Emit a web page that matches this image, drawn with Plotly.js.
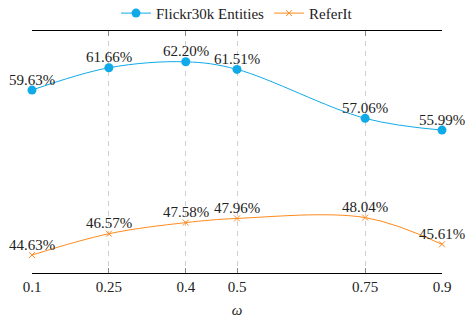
<!DOCTYPE html>
<html>
<head>
<meta charset="utf-8">
<script src="https://cdn.plot.ly/plotly-3.0.1.min.js"></script>
<style>html,body{margin:0;padding:0;background:#fff;}#chart{width:465px;height:318px;}</style>
</head>
<body>
<div id="chart"></div>
<script>
const omega = [0.1, 0.25, 0.4, 0.5, 0.75, 0.9];
const tickLabels = ['0.1', '0.25', '0.4', '0.5', '0.75', '0.9'];
const flickr = [59.63, 61.66, 62.20, 61.51, 57.06, 55.99];
const referit = [44.63, 46.57, 47.58, 47.96, 48.04, 45.61];

const fontFam = 'Liberation Serif, Times New Roman, serif';
const fmt = v => v.toFixed(2) + '%';
const cyan = '#10AAE8';
const orange = '#FF8A1C';

const traces = [
  {
    x: omega, y: flickr, name: 'Flickr30k Entities', type: 'scatter',
    mode: 'lines+markers',
    line: {color: cyan, width: 1, shape: 'spline', smoothing: 1},
    marker: {color: cyan, size: 9, symbol: 'circle'},
    cliponaxis: false
  },
  {
    x: omega, y: referit, name: 'ReferIt', type: 'scatter',
    mode: 'lines+markers',
    line: {color: orange, width: 1, shape: 'spline', smoothing: 1},
    marker: {color: orange, size: 6, symbol: 'x-thin-open', line: {color: orange, width: 1}},
    cliponaxis: false
  }
];

const annotations = [];
[flickr, referit].forEach(series => {
  series.forEach((v, i) => {
    annotations.push({
      x: omega[i], y: v, xref: 'x', yref: 'y', text: fmt(v), showarrow: false,
      xanchor: 'center', yanchor: 'middle', yshift: 10.5,
      font: {family: fontFam, size: 15, color: '#222'}
    });
  });
});

const layout = {
  width: 465, height: 318,
  margin: {l: 32, r: 23, t: 31, b: 45},
  paper_bgcolor: '#fff', plot_bgcolor: '#fff',
  font: {family: fontFam, size: 15, color: '#222'},
  showlegend: true,
  legend: {orientation: 'h', x: 0.5, xanchor: 'center', y: 0.958, yref: 'container', yanchor: 'middle',
           font: {family: fontFam, size: 15, color: '#222'}, bgcolor: 'rgba(0,0,0,0)',
           itemwidth: 30, tracegroupgap: 0},
  annotations: annotations,
  xaxis: {
    range: [0.1, 0.9], tickmode: 'array', tickvals: omega, ticktext: tickLabels,
    showline: true, linecolor: '#000', linewidth: 1, mirror: 'ticks',
    ticks: 'inside', ticklen: 5, tickcolor: '#888', tickwidth: 1,
    showgrid: true, gridcolor: '#cfcfcf', griddash: '5px,5px', gridwidth: 1,
    zeroline: false,
    tickfont: {family: fontFam, size: 15, color: '#222'},
    title: {text: '<i>ω</i>', font: {family: fontFam, size: 15, color: '#222'}, standoff: 12}
  },
  yaxis: {
    range: [43, 65], showline: false, showgrid: false, zeroline: false,
    showticklabels: false, ticks: ''
  }
};

Plotly.newPlot('chart', traces, layout, {displayModeBar: false, staticPlot: true});
</script>
</body>
</html>
